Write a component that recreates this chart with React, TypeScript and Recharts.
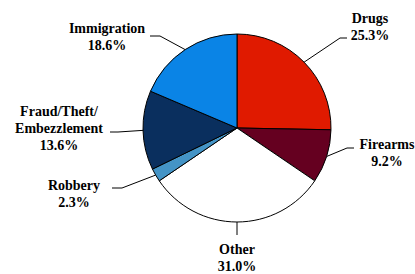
import React from 'react';
import { PieChart, Pie, Cell } from 'recharts';

const categories = ['Drugs', 'Firearms', 'Other', 'Robbery', 'Fraud/Theft/Embezzlement', 'Immigration'];
const shares = [25.3, 9.2, 31.0, 2.3, 13.6, 18.6];
const labelLines = [['Drugs'], ['Firearms'], ['Other'], ['Robbery'], ['Fraud/Theft/', 'Embezzlement'], ['Immigration']];
const colors = ['#E01A00', '#650020', '#FFFFFF', '#4494C6', '#0A2F5E', '#0A84E6'];

// leader elbow / end and label text anchor, relative to the pie centre
const labelLayout = [
  { elbow: [103, -90], end: [110, -90], text: [133, -105] },
  { elbow: [110, 20], end: [117, 20], text: [150, 21] },
  { elbow: [0, 107], end: [0, 107], text: [0, 126] },
  { elbow: [-115, 60], end: [-125, 60], text: [-163, 62] },
  { elbow: [-119, 4], end: [-127, 4], text: [-178, -12] },
  { elbow: [-77, -92], end: [-87, -92], text: [-130, -95] },
];

const data = categories.map((name, i) => ({ name, value: shares[i] }));

const RAD = Math.PI / 180;
const LINE_H = 17;
const FONT = '"Liberation Serif", "Times New Roman", Times, serif';

const renderLabel = (props: any) => {
  const { cx, cy, midAngle, outerRadius, index, value } = props;
  const lay = labelLayout[index];
  const sx = cx + outerRadius * Math.cos(-midAngle * RAD);
  const sy = cy + outerRadius * Math.sin(-midAngle * RAD);
  const lines = [...labelLines[index], value.toFixed(1) + '%'];
  return (
    <g>
      <polyline
        points={`${sx},${sy} ${cx + lay.elbow[0]},${cy + lay.elbow[1]} ${cx + lay.end[0]},${cy + lay.end[1]}`}
        fill="none"
        stroke="#000"
        strokeWidth={1}
      />
      <text
        x={cx + lay.text[0]}
        y={cy + lay.text[1]}
        textAnchor="middle"
        fontFamily={FONT}
        fontWeight="bold"
        fontSize={14}
        fill="#000"
      >
        {lines.map((l, k) => (
          <tspan key={k} x={cx + lay.text[0]} dy={k === 0 ? 0 : LINE_H}>
            {l}
          </tspan>
        ))}
      </text>
    </g>
  );
};

export default function App() {
  return (
    <div style={{ position: 'fixed', left: 0, top: 0, background: '#fff' }}>
      <PieChart width={415} height={274}>
        <Pie
          data={data}
          dataKey="value"
          cx={232}
          cy={123}
          outerRadius={94}
          startAngle={90}
          endAngle={-270}
          stroke="#000"
          strokeWidth={1}
          label={renderLabel}
          labelLine={false}
          isAnimationActive={false}
        >
          {data.map((d, i) => (
            <Cell key={d.name} fill={colors[i]} />
          ))}
        </Pie>
      </PieChart>
    </div>
  );
}
